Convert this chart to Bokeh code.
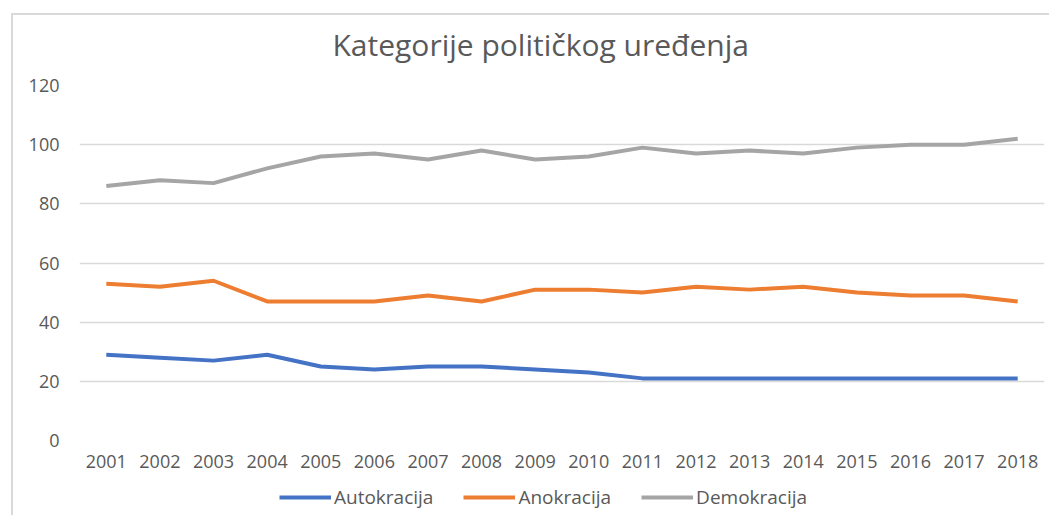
from bokeh.plotting import figure
from bokeh.layouts import column
from bokeh.models import ColumnDataSource, Legend, LegendItem, FixedTicker, Range1d, FactorRange, Label
from bokeh.embed import file_html
from bokeh.resources import INLINE

years = [str(y) for y in range(2001, 2019)]
autokracija = [29, 28, 27, 29, 25, 24, 25, 25, 24, 23, 21, 21, 21, 21, 21, 21, 21, 21]
anokracija = [53, 52, 54, 47, 47, 47, 49, 47, 51, 51, 50, 52, 51, 52, 50, 49, 49, 47]
demokracija = [86, 88, 87, 92, 96, 97, 95, 98, 95, 96, 99, 97, 98, 97, 99, 100, 100, 102]
series_names = ["Autokracija", "Anokracija", "Demokracija"]
colors = ["#4472C4", "#ED7D31", "#A5A5A5"]
y_ticks = [0, 20, 40, 60, 80, 100, 120]
title_text = "Kategorije političkog uređenja"

FONT = "Open Sans"
TXT = "#595959"

src = ColumnDataSource(dict(year=years, a=autokracija, b=anokracija, c=demokracija))

def strip(h):
    f = figure(width=1036, height=h, x_range=FactorRange(*years), y_range=Range1d(-2, -1),
               output_backend="svg", toolbar_location=None,
               x_axis_location=None, y_axis_location=None,
               min_border_left=0, min_border_right=0, min_border_top=0, min_border_bottom=0)
    f.outline_line_color = None
    f.grid.visible = False
    return f

# title strip
tf = strip(56)
tf.add_layout(Label(x=253, y=27, x_units="screen", y_units="screen", text=title_text,
                    text_font=FONT, text_font_size="30px", text_color=TXT,
                    text_align="left", text_baseline="alphabetic"))

# main chart
p = figure(width=1036, height=407, x_range=FactorRange(*years), y_range=Range1d(0, 120),
           output_backend="svg", toolbar_location=None,
           min_border_left=66, min_border_right=5, min_border_top=14, min_border_bottom=38)
p.outline_line_color = None
p.xgrid.grid_line_color = None
p.ygrid.grid_line_color = "#D9D9D9"
p.ygrid.grid_line_width = 1.5
p.yaxis.ticker = FixedTicker(ticks=y_ticks)

for ax in (p.xaxis, p.yaxis):
    ax.axis_line_color = None
    ax.major_tick_line_color = None
    ax.minor_tick_line_color = None
    ax.major_label_text_font = FONT
    ax.major_label_text_font_size = "18px"
    ax.major_label_text_color = TXT
p.yaxis.major_label_standoff = 14
p.xaxis.major_label_standoff = 8

for col, c in zip(["a", "b", "c"], colors):
    p.line("year", col, source=src, line_color=c, line_width=4)

# legend strip below the chart: same series, drawn outside its visible range
lf = strip(37)
items = []
for col, name, c in zip(["a", "b", "c"], series_names, colors):
    r = lf.line("year", col, source=src, line_color=c, line_width=4)
    items.append(LegendItem(label=name, renderers=[r]))

legend = Legend(items=items, orientation="horizontal", location=(200, 5),
                label_text_font=FONT, label_text_font_size="19px", label_text_color=TXT,
                glyph_width=52, label_standoff=3, spacing=30, border_line_color=None,
                background_fill_alpha=0, padding=0, margin=0)
lf.add_layout(legend, "center")

layout = column(tf, p, lf, spacing=0, margin=(13, 0, 0, 11))
layout.styles = {"border-top": "2px solid #D9D9D9", "border-left": "2px solid #D9D9D9"}

open("out.html", "w").write(file_html(layout, INLINE))
